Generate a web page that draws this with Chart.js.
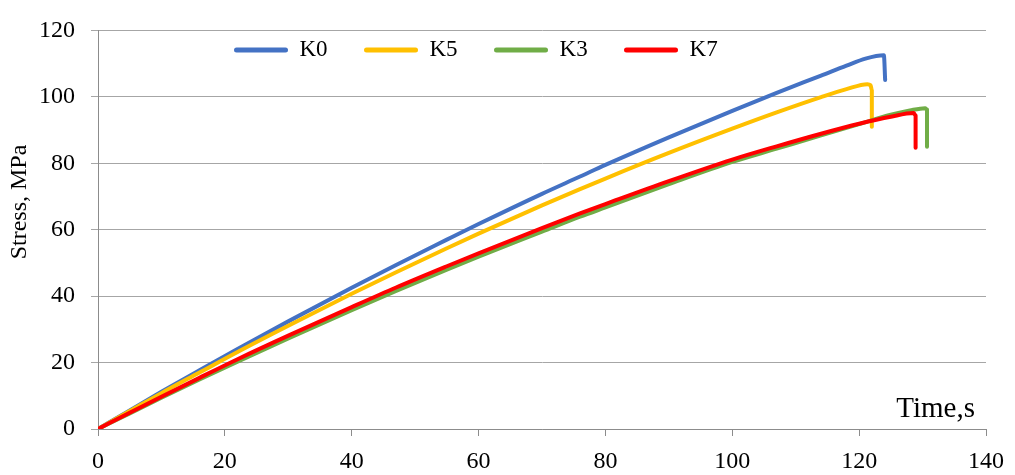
<!DOCTYPE html>
<html>
<head>
<meta charset="utf-8">
<script src="https://cdn.jsdelivr.net/npm/chart.js@4"></script>
<style>
    body { margin: 0; background: #fff; }
    #wrap { width: 1015px; height: 475px; position: relative; }
</style>
</head>
<body>
<div id="wrap"><canvas id="chart"></canvas></div>
<script>
// Stress (MPa) against time (s)
const k0Time   = [0, 5, 10, 16, 22, 30, 40, 47, 55, 60, 70, 76, 80, 90, 100, 107, 114, 118, 121, 123.9, 124.1]
const k0Stress = [0, 5.6, 11.2, 17.7, 24.1, 32.4, 42.5, 49.4, 57.0, 61.7, 70.8, 76.0, 79.5, 87.8, 95.8, 101.2, 106.4, 109.4, 111.5, 112.5, 105.1]

const k5Time   = [0, 5, 10, 16, 22, 30, 40, 47, 55, 60, 70, 76, 80, 90, 100, 107, 114, 118, 121.3, 121.8, 122, 122]
const k5Stress = [0, 5.4, 10.8, 17.0, 23.2, 31.1, 40.7, 47.2, 54.4, 58.8, 67.3, 72.2, 75.4, 83.1, 90.4, 95.3, 99.9, 102.3, 103.8, 103.5, 102.0, 91.0]

const k3Time   = [0, 5, 10, 16, 22, 30, 40, 47, 55, 60, 70, 76, 80, 90, 100, 107, 114, 120, 125, 128, 130.4, 130.7, 130.7]
const k3Stress = [0, 4.7, 9.4, 14.9, 20.3, 27.3, 35.8, 41.6, 48.0, 51.9, 59.4, 63.9, 66.7, 73.7, 80.4, 84.4, 88.4, 91.8, 94.6, 95.9, 96.6, 96.2, 85.0]

const k7Time   = [0, 5, 10, 16, 22, 30, 40, 47, 55, 60, 70, 76, 80, 90, 100, 107, 114, 120, 125, 128.6, 128.9, 128.9]
const k7Stress = [0, 4.9, 9.7, 15.4, 21.0, 28.1, 36.7, 42.6, 49.0, 52.9, 60.5, 64.9, 67.7, 74.6, 81.1, 85.1, 88.9, 91.9, 94.0, 95.1, 94.4, 84.7]

const seriesNames = ['K0', 'K5', 'K3', 'K7']
const xTicks = { min: 0, max: 140, step: 20 }
const yTicks = { min: 0, max: 120, step: 20 }

function points(times, values) {
    return times.map((t, i) => ({ x: t, y: values[i] }))
}

Chart.defaults.font.family = '"Liberation Serif", "Times New Roman", serif'
Chart.defaults.color = '#000'

// Legend sits in one row inside the plot, left of centre; axis captions are placed by hand
const captions = {
    id: 'captions',
    beforeLayout(chart) {
        chart.legend.isHorizontal = () => true
    },
    afterLayout(chart) {
        const legend = chart.legend
        const pad = legend.options.labels.padding
        legend.left = 234 - pad
        legend.top = 38.5 - pad
    },
    afterDraw(chart) {
        const ctx = chart.ctx
        const x = chart.scales.x
        ctx.save()
        ctx.fillStyle = '#000'
        ctx.textBaseline = 'middle'
        ctx.font = '29px "Liberation Serif"'
        ctx.textAlign = 'right'
        ctx.fillText('Time,s', x.right - 11, 409)
        ctx.translate(20, 202)
        ctx.rotate(-Math.PI / 2)
        ctx.font = '24px "Liberation Serif"'
        ctx.textAlign = 'center'
        ctx.fillText('Stress, MPa', 0, 0)
        ctx.restore()
    }
}

function line(label, data, color, order) {
    return {
        label: label,
        data: data,
        borderColor: color,
        backgroundColor: color,
        borderWidth: 4,
        pointRadius: 0,
        cubicInterpolationMode: 'monotone',
        borderJoinStyle: 'round',
        borderCapStyle: 'round',
        order: order
    }
}

const ctx = document.getElementById('chart')
new Chart(ctx, {
    type: 'line',
    data: {
        datasets: [
            line(seriesNames[0], points(k0Time, k0Stress), '#4472C4', 3),
            line(seriesNames[1], points(k5Time, k5Stress), '#FFC000', 2),
            line(seriesNames[2], points(k3Time, k3Stress), '#70AD47', 1),
            line(seriesNames[3], points(k7Time, k7Stress), '#FF0000', 0)
        ]
    },
    options: {
        responsive: true,
        maintainAspectRatio: false,
        animation: false,
        layout: { padding: { top: 17, right: 24, bottom: 0, left: 0 } },
        plugins: {
            tooltip: { enabled: false },
            legend: {
                position: 'chartArea',
                align: 'start',
                labels: {
                    boxWidth: 54,
                    boxHeight: 5,
                    padding: 36.4,
                    font: { size: 23 },
                    useBorderRadius: true,
                    borderRadius: 2.5,
                    sort: (a, b) => a.datasetIndex - b.datasetIndex,
                    generateLabels: chart => Chart.defaults.plugins.legend.labels.generateLabels(chart)
                        .map(item => ({ ...item, lineWidth: 0 }))
                }
            }
        },
        scales: {
            x: {
                type: 'linear',
                min: xTicks.min,
                max: xTicks.max,
                border: { color: '#8c8c8c', width: 1 },
                grid: { drawOnChartArea: false, drawTicks: true, tickLength: 7, color: '#8c8c8c' },
                ticks: { stepSize: xTicks.step, padding: 11, maxRotation: 0, font: { size: 24 } },
                afterFit: scale => { scale.height = 46 }
            },
            y: {
                min: yTicks.min,
                max: yTicks.max,
                border: { color: '#8c8c8c', width: 1 },
                grid: { color: '#a6a6a6', tickLength: 7 },
                ticks: { stepSize: yTicks.step, padding: 16, font: { size: 24 } },
                afterFit: scale => { scale.width = 98 }
            }
        }
    },
    plugins: [captions]
})
</script>
</body>
</html>
